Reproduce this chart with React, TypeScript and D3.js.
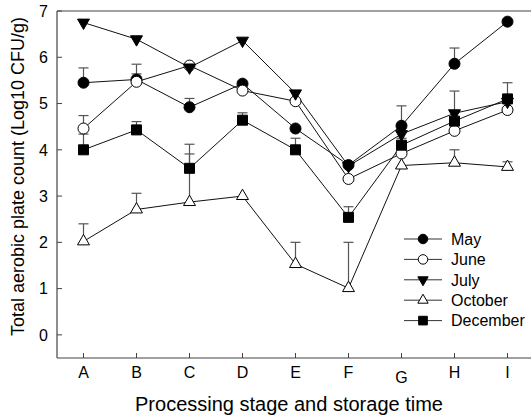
import React, { useRef, useEffect } from 'react';
import * as d3 from 'd3';

const stages = ['A', 'B', 'C', 'D', 'E', 'F', 'G', 'H', 'I'];
const yTicks = [0, 1, 2, 3, 4, 5, 6, 7];

const may = [5.45, 5.52, 4.92, 5.43, 4.46, 3.67, 4.52, 5.86, 6.77];
const mayErr = [0.32, 0.33, 0.19, 0, 0, 0, 0.43, 0.34, 0];
const june = [4.46, 5.47, 5.82, 5.28, 5.05, 3.37, 3.92, 4.41, 4.86];
const juneErr = [0.28, 0.17, 0, 0, 0, 0, 0, 0, 0];
const july = [6.75, 6.39, 5.78, 6.36, 5.22, 3.65, 4.34, 4.79, 5.04];
const julyErr = [0, 0, 0, 0, 0, 0, 0, 0.48, 0.41];
const october = [2.02, 2.71, 2.87, 3.0, 1.53, 1.01, 3.66, 3.72, 3.63];
const octoberErr = [0.38, 0.35, 1.04, 0, 0.47, 0.99, 0, 0.28, 0.11];
const december = [4.0, 4.43, 3.6, 4.64, 4.0, 2.54, 4.1, 4.62, 5.1];
const decemberErr = [0.34, 0.18, 0.52, 0.16, 0.25, 0.23, 0.15, 0, 0];

interface Series {
  name: string;
  values: number[];
  errors: number[];
  symbol: d3.SymbolType;
  size: number;
  fill: string;
  rotate: number;
}

const series: Series[] = [
  { name: 'May', values: may, errors: mayErr, symbol: d3.symbolCircle, size: 95, fill: '#000', rotate: 0 },
  { name: 'June', values: june, errors: juneErr, symbol: d3.symbolCircle, size: 95, fill: '#fff', rotate: 0 },
  { name: 'July', values: july, errors: julyErr, symbol: d3.symbolTriangle, size: 62, fill: '#000', rotate: 180 },
  { name: 'October', values: october, errors: octoberErr, symbol: d3.symbolTriangle, size: 62, fill: '#fff', rotate: 0 },
  { name: 'December', values: december, errors: decemberErr, symbol: d3.symbolSquare, size: 100, fill: '#000', rotate: 0 },
];

const W = 531;
const H = 419;
const font = "'Liberation Sans', Arial, sans-serif";

const App: React.FC = () => {
  const svgRef = useRef<SVGSVGElement | null>(null);

  useEffect(() => {
    const svg = d3.select(svgRef.current);
    svg.selectAll('*').remove();

    const left = 57, right = 534, top = 11, bottom = 358;

    const x = d3.scaleBand<string>().domain(stages).range([left, right]);
    const cx = (s: string) => (x(s) as number) + x.bandwidth() / 2;
    const y = d3.scaleLinear().domain([-0.5, 7]).range([bottom, top]);

    const axisColor = '#444';

    // frame: left, bottom, top
    const g = svg.append('g');
    g.append('line').attr('x1', left).attr('x2', W).attr('y1', top).attr('y2', top)
      .attr('stroke', axisColor).attr('stroke-width', 1.2);
    g.append('line').attr('x1', left).attr('x2', W).attr('y1', bottom).attr('y2', bottom)
      .attr('stroke', axisColor).attr('stroke-width', 1.2);
    g.append('line').attr('x1', left).attr('x2', left).attr('y1', top).attr('y2', bottom)
      .attr('stroke', axisColor).attr('stroke-width', 1.2);

    // y ticks (inward)
    yTicks.forEach(t => {
      g.append('line').attr('x1', left).attr('x2', left + 5).attr('y1', y(t)).attr('y2', y(t))
        .attr('stroke', axisColor);
      g.append('text').attr('x', left - 9).attr('y', y(t)).attr('dy', '0.36em')
        .attr('text-anchor', 'end').style('font-family', font).style('font-size', '16px')
        .text(String(t));
    });

    // x ticks (inward)
    stages.forEach(s => {
      g.append('line').attr('x1', cx(s)).attr('x2', cx(s)).attr('y1', bottom).attr('y2', bottom - 5)
        .attr('stroke', axisColor);
      g.append('text').attr('x', cx(s)).attr('y', s === 'G' ? 383 : 378)
        .attr('text-anchor', 'middle').style('font-family', font).style('font-size', '16px')
        .text(s);
    });

    // axis titles
    g.append('text').attr('x', 289).attr('y', 411).attr('text-anchor', 'middle')
      .style('font-family', font).style('font-size', '20px')
      .text('Processing stage and storage time');
    g.append('text').attr('transform', `translate(24,${(top + bottom) / 2 - 8}) rotate(-90)`)
      .attr('text-anchor', 'middle')
      .style('font-family', font).style('font-size', '18px')
      .text('Total aerobic plate count (Log10 CFU/g)');

    // error bars (upward)
    const errColor = '#555';
    series.forEach(sr => {
      sr.values.forEach((v, i) => {
        const e = sr.errors[i];
        if (!e) return;
        const px = cx(stages[i]);
        g.append('line').attr('x1', px).attr('x2', px).attr('y1', y(v)).attr('y2', y(v + e))
          .attr('stroke', errColor).attr('stroke-width', 1.2);
        g.append('line').attr('x1', px - 5).attr('x2', px + 5).attr('y1', y(v + e)).attr('y2', y(v + e))
          .attr('stroke', errColor).attr('stroke-width', 1.2);
      });
    });

    const line = d3.line<number>()
      .x((_, i) => cx(stages[i]))
      .y(d => y(d));

    series.forEach(sr => {
      g.append('path').datum(sr.values)
        .attr('fill', 'none').attr('stroke', '#111').attr('stroke-width', 1)
        .attr('d', line);
    });

    series.forEach(sr => {
      const sym = d3.symbol().type(sr.symbol).size(sr.size);
      sr.values.forEach((v, i) => {
        g.append('path')
          .attr('d', sym() as string)
          .attr('transform', `translate(${cx(stages[i])},${y(v)}) rotate(${sr.rotate})`)
          .attr('fill', sr.fill).attr('stroke', '#000').attr('stroke-width', 1);
      });
    });

    // legend
    const legend = g.append('g').attr('transform', 'translate(404,239)');
    series.forEach((sr, i) => {
      const row = legend.append('g').attr('transform', `translate(0,${i * 20.4})`);
      row.append('line').attr('x1', 0).attr('x2', 38).attr('y1', 0).attr('y2', 0)
        .attr('stroke', '#333');
      const sym = d3.symbol().type(sr.symbol).size(sr.size * 0.75);
      row.append('path').attr('d', sym() as string)
        .attr('transform', `translate(19,0) rotate(${sr.rotate})`)
        .attr('fill', sr.fill).attr('stroke', '#000');
      row.append('text').attr('x', 47).attr('y', 0).attr('dy', '0.36em')
        .style('font-family', font).style('font-size', '16px')
        .text(sr.name);
    });
  }, []);

  return (
    <svg
      ref={svgRef}
      width={W}
      height={H}
      style={{ position: 'absolute', left: 0, top: 0, background: '#fff' }}
    />
  );
};

export default App;
